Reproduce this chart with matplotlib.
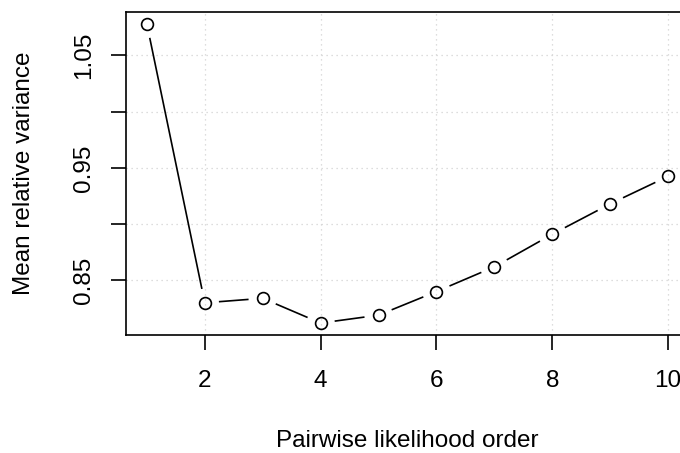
import numpy as np
import matplotlib
matplotlib.use("Agg")
import matplotlib.pyplot as plt

# Values
order = [1, 2, 3, 4, 5, 6, 7, 8, 9, 10]
mean_rel_var = [1.078, 0.830, 0.834, 0.812, 0.819, 0.840, 0.862, 0.891, 0.918, 0.9425]

x_ticks = [2, 4, 6, 8, 10]
y_ticks = [0.85, 0.90, 0.95, 1.00, 1.05]
y_ticklabels = ["0.85", "", "0.95", "", "1.05"]

plt.rcParams['font.family'] = ['Liberation Sans', 'DejaVu Sans']

fig = plt.figure(figsize=(6.8, 4.53), dpi=100)
# R-style plot region, extends a bit past the right edge like the original
ax = fig.add_axes([126 / 680, 118 / 453, 563 / 680, 323 / 453])

# R-like 4% padding of the data range
xr = max(order) - min(order)
yr = max(mean_rel_var) - min(mean_rel_var)
ax.set_xlim(min(order) - 0.04 * xr, max(order) + 0.04 * xr)
ax.set_ylim(min(mean_rel_var) - 0.04 * yr, max(mean_rel_var) + 0.04 * yr)

# light dotted grid
for xv in x_ticks:
    ax.axvline(xv, color='#d3d3d3', lw=0.9, ls=(0, (1, 3)), zorder=0)
for yv in y_ticks:
    ax.axhline(yv, color='#d3d3d3', lw=0.9, ls=(0, (1, 3)), zorder=0)

# type="b": line segments with gaps around the points
gap = 15  # pixels
pts = ax.transData.transform(np.column_stack([order, mean_rel_var]))
inv = ax.transData.inverted()
for p0, p1 in zip(pts[:-1], pts[1:]):
    d = p1 - p0
    n = np.hypot(*d)
    if n <= 2 * gap:
        continue
    u = d / n
    a = inv.transform(p0 + u * gap)
    b = inv.transform(p1 - u * gap)
    ax.plot([a[0], b[0]], [a[1], b[1]], color='black', lw=1.2, zorder=2)

ax.plot(order, mean_rel_var, ls='none', marker='o', ms=8.5,
        mfc='none', mec='black', mew=1.2, zorder=3)

ax.set_xticks(x_ticks)
ax.set_yticks(y_ticks)
ax.set_yticklabels(y_ticklabels, rotation=90, va='center')
ax.tick_params(axis='both', length=11, width=1.2, labelsize=17.5)
ax.tick_params(axis='x', pad=14.5)
ax.tick_params(axis='y', pad=11.5)

for s in ax.spines.values():
    s.set_linewidth(1.2)

ax.set_xlabel("Pairwise likelihood order", fontsize=17.5, va='center')
ax.xaxis.set_label_coords(0.5, (453 - 441 - 118) / 323)
ax.set_ylabel("Mean relative variance", fontsize=17.5, va='center')
ax.yaxis.set_label_coords((24.5 - 126) / 563, 0.5)

fig.savefig("out.png", dpi=100)
